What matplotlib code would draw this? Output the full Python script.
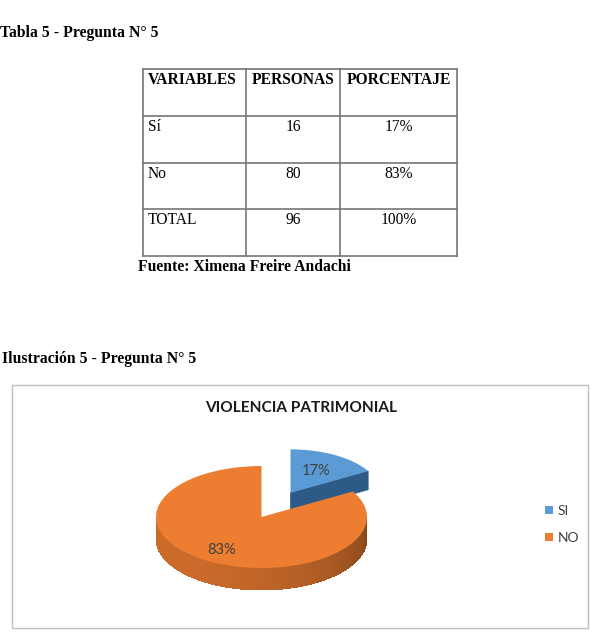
import numpy as np
import matplotlib
matplotlib.use('Agg')
import matplotlib.pyplot as plt
from matplotlib.patches import Wedge, Polygon, Patch
from matplotlib.transforms import Affine2D

# Table data
headers = ['VARIABLES', 'PERSONAS', 'PORCENTAJE']
variables = ['Sí', 'No', 'TOTAL']
personas = [16, 80, 96]
porcentaje = ['17%', '83%', '100%']

# Pie data
pie_labels = ['SI', 'NO']
pie_values = [16, 80]
pie_colors = ['#5B9BD5', '#ED7D31']
pie_sides = ['#2E5A88', '#ED7D31']

serif = 'Liberation Serif'
sans = 'Lato'


def shade(color, f):
    rgb = np.array(matplotlib.colors.to_rgb(color))
    return tuple(np.clip(rgb * f, 0, 1))


fig = plt.figure(figsize=(5.91, 6.43), dpi=100)
ax = fig.add_axes([0, 0, 1, 1])
ax.set_xlim(0, 591)
ax.set_ylim(643, 0)
ax.axis('off')

# Headings
ax.text(0, 33, 'Tabla 5 - Pregunta N° 5', fontsize=11.3, fontweight='bold',
        family=serif, va='center', ha='left')
ax.text(2, 359, 'Ilustración 5 - Pregunta N° 5', fontsize=11.3, fontweight='bold',
        family=serif, va='center', ha='left')
ax.text(138, 267, 'Fuente: Ximena Freire Andachi', fontsize=11.3, fontweight='bold',
        family=serif, va='center', ha='left')

# Table grid
col_x = [143, 246, 340, 457]
row_y = [69, 116, 163, 209, 256]
for x in col_x:
    ax.plot([x, x], [row_y[0], row_y[-1]], color='#767676', lw=1.2)
for y in row_y:
    ax.plot([col_x[0], col_x[-1]], [y, y], color='#767676', lw=1.2)

for j, h in enumerate(headers):
    if j == 0:
        ax.text(col_x[0] + 5, row_y[0] + 11, h, family=serif, fontsize=11.2,
                fontweight='bold', va='center', ha='left')
    else:
        ax.text((col_x[j] + col_x[j + 1]) / 2, row_y[0] + 11, h, family=serif,
                fontsize=11.2, fontweight='bold', va='center', ha='center')

for i in range(len(variables)):
    y = row_y[i + 1] + 11
    ax.text(col_x[0] + 5, y, variables[i], family=serif, fontsize=11.2,
            va='center', ha='left')
    ax.text((col_x[1] + col_x[2]) / 2, y, str(personas[i]), family=serif,
            fontsize=11.2, va='center', ha='center')
    ax.text((col_x[2] + col_x[3]) / 2, y, porcentaje[i], family=serif,
            fontsize=11.2, va='center', ha='center')

# Chart frame
ax.add_patch(plt.Rectangle((12, 385), 576, 243, fill=False, ec='#bfbfbf', lw=1))
ax.text(301, 408, 'VIOLENCIA PATRIMONIAL', family=sans, fontsize=11.1,
        fontweight='bold', color='#1a1a1a', ha='center', va='center')

# 3D pie: unit circle squashed into an ellipse
cx, cy, rx, ry = 261.5, 517, 105.5, 51
depth = 22 / ry
T = Affine2D().scale(rx, -ry).translate(cx, cy) + ax.transData

total = sum(pie_values)
start = 90.0
wedges = []
for v in pie_values:
    span = v / total * 360
    wedges.append((start - span, start))
    start -= span

explode = [0.55, 0.0]
scale = [0.85, 1.0]

for i in range(len(pie_values)):
    t1, t2 = wedges[i]
    mid = np.radians((t1 + t2) / 2)
    off = (explode[i] * np.cos(mid), explode[i] * np.sin(mid))
    tr = Affine2D().scale(scale[i]).translate(*off) + T

    # cut face at the theta1 edge (visible for the exploded slice)
    if explode[i] > 0:
        a = np.radians(t1)
        p = [(0, 0), (np.cos(a), np.sin(a)), (np.cos(a), np.sin(a) - depth), (0, -depth)]
        ax.add_patch(Polygon(p, closed=True, fc=pie_sides[i], ec=pie_sides[i],
                             lw=0.5, transform=tr))

    # outer wall on the front half
    lo, hi = max(t1, -180), min(t2, 0)
    if hi > lo:
        th = np.linspace(lo, hi, 150)
        r = np.radians(th)
        top = np.column_stack([np.cos(r), np.sin(r)])
        bot = np.column_stack([np.cos(r), np.sin(r) - depth])[::-1]
        ax.add_patch(Polygon(np.vstack([top, bot]), closed=True,
                             fc=shade(pie_sides[i], 0.72), ec='none', transform=tr))
        for k in range(len(th) - 1):
            a1, a2 = r[k], r[k + 1]
            p = [(np.cos(a1), np.sin(a1)), (np.cos(a2), np.sin(a2)),
                 (np.cos(a2), np.sin(a2) - depth), (np.cos(a1), np.sin(a1) - depth)]
            u = (th[k] + 180) / 180
            f = 0.85 + 0.04 * np.sin(np.pi * u) - 0.3 * u ** 1.8
            c = shade(pie_sides[i], f)
            ax.add_patch(Polygon(p, closed=True, fc=c, ec='none',
                                 antialiased=False, transform=tr))

    ax.add_patch(Wedge((0, 0), 1, t1, t2, fc=pie_colors[i], ec='none', transform=tr))

    # percentage label
    pct = '%d%%' % round(pie_values[i] / total * 100)
    rl = 0.58 if explode[i] > 0 else 0.75
    lx, ly = tr.transform((rl * np.cos(mid), rl * np.sin(mid)))
    lx, ly = ax.transData.inverted().transform((lx, ly))
    ax.text(lx, ly, pct, family=sans, fontsize=10.5, color='#404040',
            ha='center', va='center')

# Legend
handles = [Patch(fc=c, ec='none') for c in pie_colors]
ax.legend(handles, pie_labels, loc='center left', bbox_to_anchor=(545, 524.5),
          bbox_transform=ax.transData, frameon=False, borderpad=0,
          borderaxespad=0, handlelength=0.55, handleheight=0.55,
          handletextpad=0.35, labelspacing=1.1,
          prop={'family': sans, 'size': 10})
for t in ax.get_legend().get_texts():
    t.set_color('#404040')

fig.savefig('out.png', dpi=100)
